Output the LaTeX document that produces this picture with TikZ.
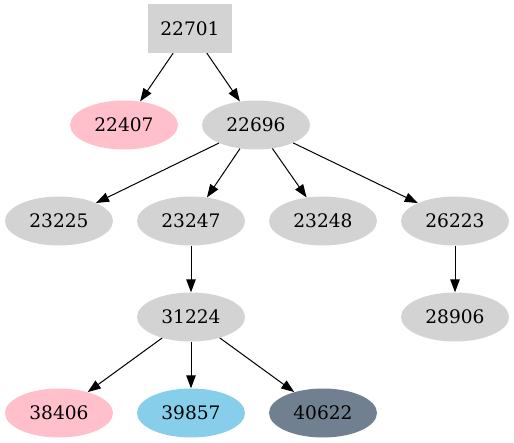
\documentclass[tikz,border=0pt]{standalone}
\usepackage{fontspec}
\setmainfont{DejaVu Serif}
\usetikzlibrary{arrows.meta,shapes.geometric}
\definecolor{gvgray}{HTML}{D3D3D3}
\definecolor{gvpink}{HTML}{FFC0CB}
\definecolor{gvsky}{HTML}{87CEEB}
\definecolor{gvslate}{HTML}{708090}
\tikzset{
  base/.style={inner sep=0pt, font=\fontsize{18.6pt}{22pt}\selectfont, text=black},
  oval/.style={base, ellipse, minimum width=108pt, minimum height=49pt, fill=gvgray},
  boxnode/.style={base, rectangle, minimum width=84pt, minimum height=49pt, fill=gvgray},
  edge/.style={draw=black, line width=1pt, -{Triangle[length=13pt,width=9.5pt]}}
}
\begin{document}
\begin{tikzpicture}[x=1pt,y=-1pt]
\useasboundingbox (0,0) rectangle (514,443);
\node[boxnode] (n22701) at (190,28.5) {22701};
\node[oval, fill=gvpink] (n22407) at (124,125) {22407};
\node[oval] (n22696) at (256,125) {22696};
\node[oval] (n23225) at (59,221) {23225};
\node[oval] (n23247) at (191,221) {23247};
\node[oval] (n23248) at (323,221) {23248};
\node[oval] (n26223) at (455,221) {26223};
\node[oval] (n31224) at (191,317) {31224};
\node[oval] (n28906) at (455,317) {28906};
\node[oval, fill=gvpink] (n38406) at (59,413) {38406};
\node[oval, fill=gvsky] (n39857) at (191,413) {39857};
\node[oval, fill=gvslate] (n40622) at (323,413) {40622};
\draw[edge] (n22701) -- (n22407);
\draw[edge] (n22701) -- (n22696);
\draw[edge] (n22696) -- (n23225);
\draw[edge] (n22696) -- (n23247);
\draw[edge] (n22696) -- (n23248);
\draw[edge] (n22696) -- (n26223);
\draw[edge] (n23247) -- (n31224);
\draw[edge] (n26223) -- (n28906);
\draw[edge] (n31224) -- (n38406);
\draw[edge] (n31224) -- (n39857);
\draw[edge] (n31224) -- (n40622);
\end{tikzpicture}
\end{document}
